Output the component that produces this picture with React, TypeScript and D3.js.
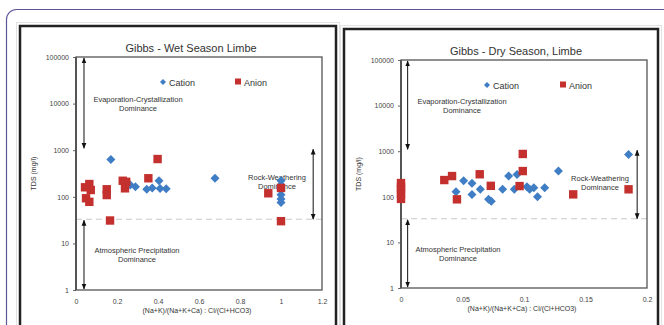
import React, { useRef, useEffect } from 'react';
import * as d3 from 'd3';

// Wet season (Limbe)
const wetCationX = [0.17, 0.265, 0.29, 0.345, 0.372, 0.405, 0.41, 0.44, 0.678, 1, 1, 1, 1, 1, 1];
const wetCationTDS = [635, 180, 165, 145, 155, 220, 150, 148, 250, 220, 180, 140, 110, 90, 75];
const wetAnionX = [0.044, 0.065, 0.072, 0.049, 0.065, 0.15, 0.15, 0.166, 0.228, 0.245, 0.239, 0.353, 0.398, 0.938, 1, 1];
const wetAnionTDS = [160, 188, 140, 93, 78, 145, 109, 31, 221, 210, 152, 250, 646, 119, 155, 30];

// Dry season (Limbe)
const dryCationX = [0.0447, 0.0509, 0.0577, 0.0577, 0.0645, 0.0712, 0.0734, 0.0826, 0.0875, 0.0921, 0.0943, 0.1024, 0.1046, 0.108, 0.111, 0.1168, 0.128, 0.185];
const dryCationTDS = [129, 225, 197, 113, 146, 88, 80, 146, 285, 146, 310, 166, 146, 158, 100, 158, 367, 850];
const dryAnionX = [0, 0, 0, 0, 0, 0.0352, 0.0415, 0.0455, 0.064, 0.073, 0.099, 0.0964, 0.099, 0.14, 0.185];
const dryAnionTDS = [200, 165, 140, 115, 90, 233, 285, 88, 312, 174, 367, 172, 870, 113, 146];

const yTicks = [1, 10, 100, 1000, 10000, 100000];
const wetXTicks = [0, 0.2, 0.4, 0.6, 0.8, 1, 1.2];
const dryXTicks = [0, 0.05, 0.1, 0.15, 0.2];

const FONT = '"Liberation Sans", Arial, sans-serif';
const BLUE = '#3f7dc4';
const RED = '#c3302e';

type Panel = {
  title: string;
  box: [number, number, number, number];
  plot: { left: number; top: number; right: number; bottom: number };
  xMax: number;
  xTicks: number[];
  cx: number[]; cy: number[]; ax: number[]; ay: number[];
  legendX: [number, number];
  evapX: number;
  atmoX: number;
  rockX: number;
  rockAnchor: number;
  leftArrowX: number;
  rightArrowX: number;
};

const panels: Panel[] = [
  {
    title: 'Gibbs - Wet Season Limbe',
    box: [20, 26, 316, 302],
    plot: { left: 76, top: 57, right: 322, bottom: 290 },
    xMax: 1.2,
    xTicks: wetXTicks,
    cx: wetCationX, cy: wetCationTDS, ax: wetAnionX, ay: wetAnionTDS,
    legendX: [163, 238],
    evapX: 138,
    atmoX: 137,
    rockX: 277,
    rockAnchor: 0,
    leftArrowX: 0.039,
    rightArrowX: 1.157,
  },
  {
    title: 'Gibbs - Dry Season, Limbe',
    box: [344, 29, 314, 302],
    plot: { left: 401, top: 60, right: 647, bottom: 288 },
    xMax: 0.2,
    xTicks: dryXTicks,
    cx: dryCationX, cy: dryCationTDS, ax: dryAnionX, ay: dryAnionTDS,
    legendX: [487, 563],
    evapX: 462,
    atmoX: 458,
    rockX: 600,
    rockAnchor: 0,
    leftArrowX: 0.0054,
    rightArrowX: 0.192,
  },
];

const App = () => {
  const svgRef = useRef<SVGSVGElement>(null);

  useEffect(() => {
    const svg = d3.select(svgRef.current);
    svg.selectAll('*').remove();

    // arrow marker
    const defs = svg.append('defs');
    defs.append('marker')
      .attr('id', 'arr')
      .attr('viewBox', '0 0 10 10')
      .attr('refX', 9).attr('refY', 5)
      .attr('markerWidth', 6).attr('markerHeight', 6)
      .attr('orient', 'auto-start-reverse')
      .append('path')
      .attr('d', 'M0,1 L10,5 L0,9 Z')
      .attr('fill', '#111');

    // outer page frame
    svg.append('rect')
      .attr('x', 6.5).attr('y', 9.5)
      .attr('width', 700).attr('height', 340)
      .attr('rx', 10)
      .attr('fill', '#fff')
      .attr('stroke', '#5d5699')
      .attr('stroke-width', 1.2);

    panels.forEach(p => {
      const [bx, by, bw, bh] = p.box;
      // light shadow border + black chart border
      svg.append('rect')
        .attr('x', bx - 3.5).attr('y', by - 3.5)
        .attr('width', bw + 7).attr('height', bh + 7)
        .attr('fill', '#fff').attr('stroke', '#e2e2e2').attr('stroke-width', 1);
      svg.append('rect')
        .attr('x', bx).attr('y', by)
        .attr('width', bw).attr('height', bh)
        .attr('fill', '#fff').attr('stroke', '#222').attr('stroke-width', 2.5);

      const x = d3.scaleLinear().domain([0, p.xMax]).range([p.plot.left, p.plot.right]);
      const y = d3.scaleLog().domain([1, 100000]).range([p.plot.bottom, p.plot.top]);

      const g = svg.append('g');

      // title
      g.append('text')
        .attr('x', (p.plot.left + p.plot.right) / 2 - 8)
        .attr('y', by + 26)
        .attr('text-anchor', 'middle')
        .attr('font-family', FONT).attr('font-size', 11).attr('fill', '#333')
        .text(p.title);

      // dashed boundary
      g.append('line')
        .attr('x1', x(0)).attr('x2', x(p.xMax))
        .attr('y1', y(33)).attr('y2', y(33))
        .attr('stroke', '#c8c8c8').attr('stroke-width', 1)
        .attr('stroke-dasharray', '6,4');

      // axes
      const yAxis = d3.axisLeft(y).tickValues(yTicks).tickSize(3).tickFormat(d => String(d));
      g.append('g')
        .attr('transform', `translate(${p.plot.left},0)`)
        .call(yAxis)
        .call(s => s.select('.domain').remove())
        .call(s => s.selectAll('line').attr('stroke', '#666'))
        .call(s => s.selectAll('text')
          .attr('font-family', FONT).attr('font-size', 7).attr('fill', '#444').attr('x', -7));

      const fmt = (d: number) => (d === 0 ? '0' : String(+d.toFixed(2)));
      const xAxis = d3.axisBottom(x).tickValues(p.xTicks).tickSize(0).tickFormat(d => fmt(+d));
      g.append('g')
        .attr('transform', `translate(0,${p.plot.bottom})`)
        .call(xAxis)
        .call(s => s.select('.domain').remove())
        .call(s => s.selectAll('text')
          .attr('font-family', FONT).attr('font-size', 7).attr('fill', '#444').attr('dy', '1.5em'));

      // plot frame
      g.append('rect')
        .attr('x', p.plot.left).attr('y', p.plot.top)
        .attr('width', p.plot.right - p.plot.left).attr('height', p.plot.bottom - p.plot.top)
        .attr('fill', 'none').attr('stroke', '#555').attr('stroke-width', 1.3);
      g.append('line')
        .attr('x1', p.plot.left).attr('x2', p.plot.left)
        .attr('y1', p.plot.top).attr('y2', p.plot.bottom)
        .attr('stroke', '#555').attr('stroke-width', 2);

      // axis titles
      g.append('text')
        .attr('transform', `translate(${p.plot.left - 40},${(p.plot.top + p.plot.bottom) / 2}) rotate(-90)`)
        .attr('text-anchor', 'middle')
        .attr('font-family', FONT).attr('font-size', 7).attr('fill', '#333')
        .text('TDS (mg/l)');
      g.append('text')
        .attr('x', (p.plot.left + p.plot.right) / 2 - 2)
        .attr('y', p.plot.bottom + 23)
        .attr('text-anchor', 'middle')
        .attr('font-family', FONT).attr('font-size', 7).attr('fill', '#333')
        .text('(Na+K)/(Na+K+Ca) : Cl/(Cl+HCO3)');

      // dominance arrows
      const arrow = (xv: number, y1: number, y2: number) =>
        g.append('line')
          .attr('x1', x(xv)).attr('x2', x(xv))
          .attr('y1', y1).attr('y2', y2)
          .attr('stroke', '#111').attr('stroke-width', 1)
          .attr('marker-start', 'url(#arr)').attr('marker-end', 'url(#arr)');
      arrow(p.leftArrowX, y(100000) + 1, y(1100));
      arrow(p.leftArrowX, y(33) + 1, y(1) - 1);
      arrow(p.rightArrowX, y(1050), y(33));

      // annotation texts
      const note = (cx: number, cy: number, lines: string[]) => {
        lines.forEach((t, i) => {
          g.append('text')
            .attr('x', cx).attr('y', cy + i * 9)
            .attr('text-anchor', 'middle')
            .attr('font-family', FONT).attr('font-size', 7.5).attr('fill', '#333')
            .text(t);
        });
      };
      note(p.evapX, y(10000) - 2, ['Evaporation-Crystallization', 'Dominance']);
      note(p.atmoX, y(10) + 10, ['Atmospheric Precipitation', 'Dominance']);
      note(p.rockX, y(250) + 2, ['Rock-Weathering', 'Dominance']);

      // points
      const diamond = (cx: number, cy: number, r: number) =>
        `M${cx},${cy - r}L${cx + r},${cy}L${cx},${cy + r}L${cx - r},${cy}Z`;

      g.append('g').selectAll('path')
        .data(p.cx.map((v, i) => [v, p.cy[i]]))
        .enter().append('path')
        .attr('d', d => diamond(x(d[0]), y(d[1]), 4.5))
        .attr('fill', BLUE);

      g.append('g').selectAll('rect')
        .data(p.ax.map((v, i) => [v, p.ay[i]]))
        .enter().append('rect')
        .attr('x', d => x(d[0]) - 4.2).attr('y', d => y(d[1]) - 4.2)
        .attr('width', 8.4).attr('height', 8.4)
        .attr('fill', RED);

      // legend
      const [lx1, lx2] = p.legendX;
      const ly = p.plot.top + 25;
      g.append('path').attr('d', diamond(lx1, ly, 3)).attr('fill', BLUE);
      g.append('text').attr('x', lx1 + 6).attr('y', ly + 3.5)
        .attr('font-family', FONT).attr('font-size', 9).attr('fill', '#333').text('Cation');
      g.append('rect').attr('x', lx2 - 3).attr('y', ly - 3.5).attr('width', 6).attr('height', 6).attr('fill', RED);
      g.append('text').attr('x', lx2 + 6).attr('y', ly + 3.5)
        .attr('font-family', FONT).attr('font-size', 9).attr('fill', '#333').text('Anion');
    });
  }, []);

  return (
    <svg
      ref={svgRef}
      width={664}
      height={325}
      style={{ position: 'fixed', left: 0, top: 0, background: '#fff' }}
    />
  );
};

export default App;
